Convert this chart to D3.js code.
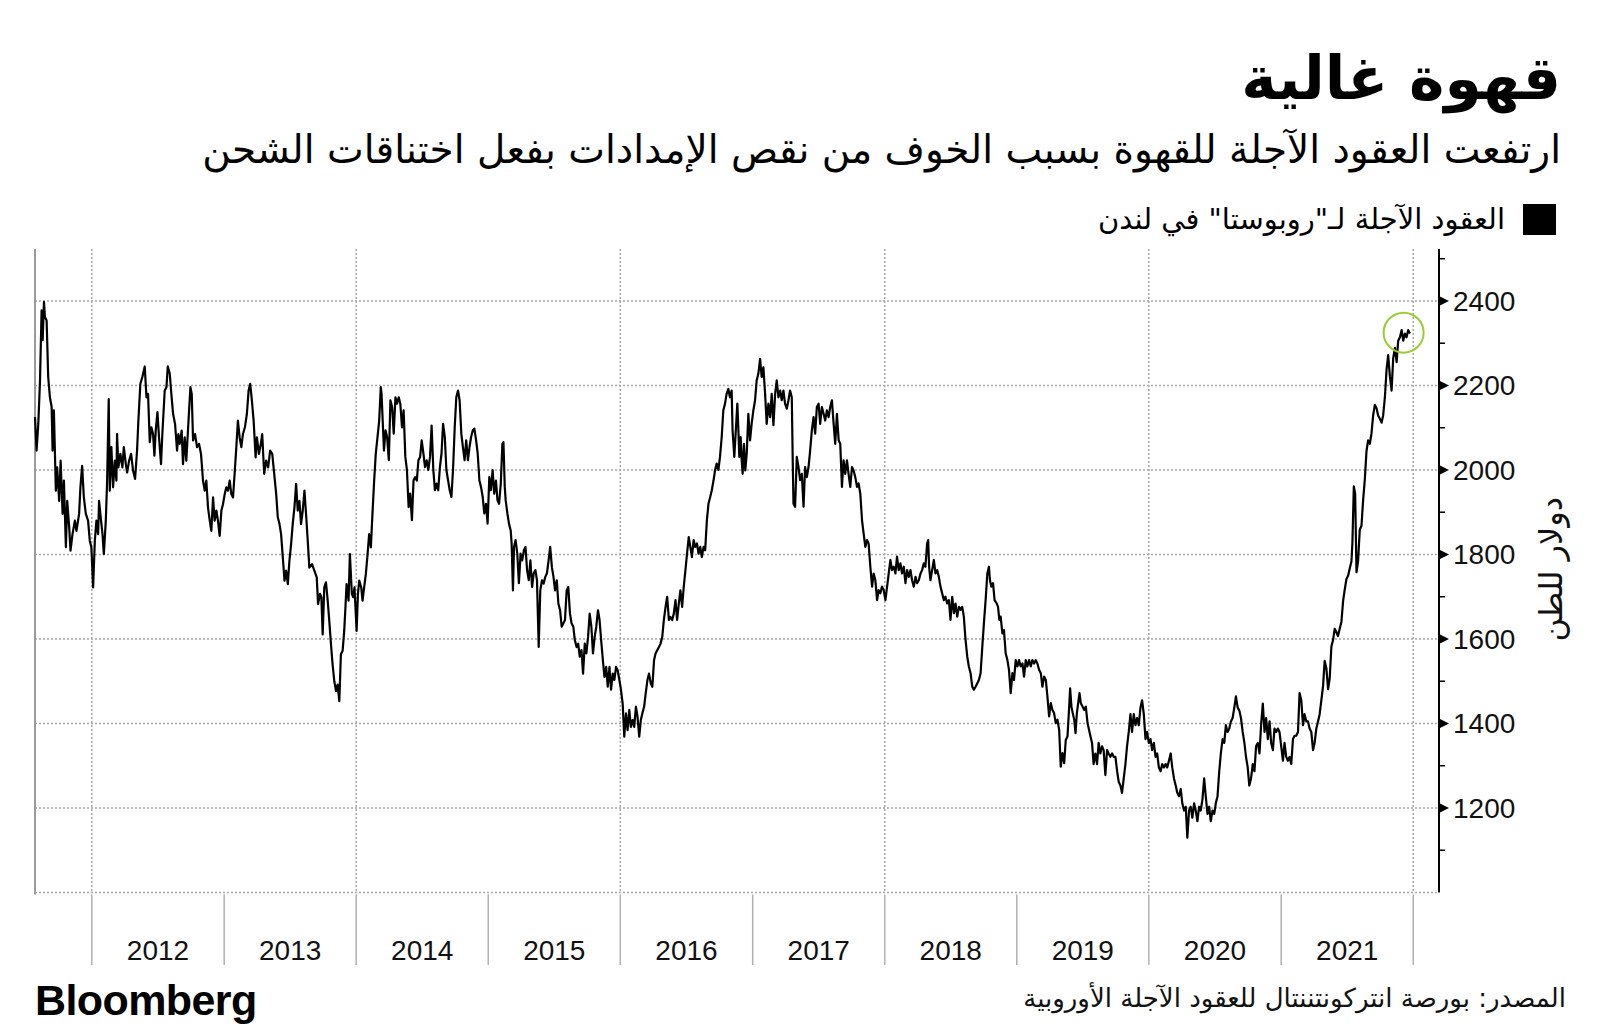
<!DOCTYPE html>
<html>
<head>
<meta charset="utf-8">
<script src="https://cdn.jsdelivr.net/npm/d3@7"></script>
<style>
  body { margin: 0; background: #fff; }
  svg { display: block; }
</style>
</head>
<body>
<div id="viz"></div>
<script>
// London robusta futures, USD/tonne (time as decimal year)
var priceSeries = [
  [2011.570,2125],[2011.582,2046],[2011.595,2109],[2011.608,2212],[2011.620,2378],[2011.628,2307],[2011.638,2398],[2011.645,2362],[2011.658,2354],[2011.670,2220],
  [2011.683,2172],[2011.696,2149],[2011.703,2046],[2011.713,2141],[2011.728,1951],[2011.738,2006],[2011.753,1927],[2011.764,2022],[2011.779,1896],[2011.789,1975],
  [2011.804,1817],[2011.814,1927],[2011.829,1864],[2011.839,1809],[2011.854,1848],[2011.872,1880],[2011.884,1856],[2011.904,1896],[2011.914,1959],[2011.927,2010],
  [2011.940,1935],[2011.955,1896],[2011.972,1880],[2011.985,1832],[2011.997,1817],[2012.010,1722],[2012.023,1832],[2012.035,1880],[2012.048,1848],[2012.055,1927],
  [2012.070,1880],[2012.081,1848],[2012.091,1801],[2012.106,1880],[2012.116,1975],[2012.128,2168],[2012.136,1951],[2012.148,2054],[2012.161,1959],[2012.174,2022],
  [2012.186,1975],[2012.191,2085],[2012.201,2006],[2012.216,2038],[2012.231,2006],[2012.242,2054],[2012.257,2014],[2012.267,1994],[2012.282,2022],[2012.297,2038],
  [2012.312,1998],[2012.327,1979],[2012.342,2046],[2012.352,2117],[2012.367,2204],[2012.382,2220],[2012.400,2245],[2012.413,2172],[2012.425,2180],[2012.438,2066],
  [2012.450,2101],[2012.463,2085],[2012.473,2034],[2012.483,2093],[2012.496,2137],[2012.508,2077],[2012.523,2014],[2012.533,2085],[2012.551,2188],[2012.564,2196],
  [2012.574,2245],[2012.589,2228],[2012.601,2180],[2012.614,2133],[2012.629,2109],[2012.644,2046],[2012.654,2085],[2012.664,2062],[2012.679,2093],[2012.689,2014],
  [2012.702,2077],[2012.714,2022],[2012.725,2085],[2012.735,2141],[2012.745,2196],[2012.755,2180],[2012.765,2070],[2012.780,2085],[2012.795,2054],[2012.810,2062],
  [2012.825,2038],[2012.840,1975],[2012.853,1951],[2012.865,1975],[2012.878,1911],[2012.891,1880],[2012.903,1856],[2012.916,1935],[2012.928,1880],[2012.941,1904],
  [2012.953,1880],[2012.966,1844],[2012.979,1904],[2012.991,1919],[2013.004,1943],[2013.016,1959],[2013.029,1951],[2013.042,1975],[2013.054,1943],[2013.067,1935],
  [2013.079,1991],[2013.092,2054],[2013.104,2117],[2013.117,2077],[2013.130,2054],[2013.142,2085],[2013.157,2101],[2013.172,2133],[2013.185,2188],[2013.197,2204],
  [2013.210,2164],[2013.223,2117],[2013.238,2030],[2013.248,2077],[2013.263,2038],[2013.278,2062],[2013.288,2085],[2013.303,1991],[2013.318,2022],[2013.333,2006],
  [2013.348,2046],[2013.364,2038],[2013.379,1991],[2013.394,1943],[2013.406,1888],[2013.419,1872],[2013.431,1848],[2013.444,1793],[2013.457,1738],[2013.469,1762],
  [2013.482,1730],[2013.494,1785],[2013.507,1825],[2013.519,1872],[2013.532,1911],[2013.545,1967],[2013.557,1904],[2013.570,1927],[2013.582,1872],[2013.595,1904],
  [2013.608,1951],[2013.620,1896],[2013.633,1832],[2013.645,1769],[2013.665,1777],[2013.683,1762],[2013.701,1746],[2013.711,1683],[2013.726,1707],[2013.736,1699],
  [2013.746,1611],[2013.758,1722],[2013.771,1734],[2013.784,1691],[2013.796,1643],[2013.809,1587],[2013.821,1540],[2013.834,1500],[2013.847,1477],[2013.859,1492],
  [2013.872,1453],[2013.884,1564],[2013.897,1572],[2013.909,1619],[2013.917,1666],[2013.927,1730],[2013.942,1691],[2013.952,1801],[2013.967,1707],[2013.977,1699],
  [2013.987,1722],[2014.003,1619],[2014.013,1707],[2014.023,1738],[2014.038,1722],[2014.048,1691],[2014.060,1722],[2014.073,1754],[2014.086,1801],[2014.098,1848],
  [2014.111,1817],[2014.123,1896],[2014.136,1975],[2014.148,2038],[2014.161,2077],[2014.174,2117],[2014.186,2196],[2014.192,2180],[2014.210,2046],[2014.222,2094],
  [2014.234,2078],[2014.247,2023],[2014.259,2165],[2014.272,2149],[2014.284,2086],[2014.297,2172],[2014.309,2157],[2014.322,2172],[2014.334,2157],[2014.347,2101],
  [2014.359,2141],[2014.372,2031],[2014.384,2000],[2014.397,1912],[2014.409,1944],[2014.422,1881],[2014.434,1975],[2014.446,1983],[2014.459,1975],[2014.471,2023],
  [2014.484,2031],[2014.496,2070],[2014.509,2039],[2014.521,2007],[2014.534,2023],[2014.546,2000],[2014.559,2031],[2014.571,2105],[2014.584,2000],[2014.596,1952],
  [2014.609,1968],[2014.621,1952],[2014.634,2007],[2014.646,2039],[2014.658,2109],[2014.671,2078],[2014.683,2000],[2014.696,1975],[2014.708,1952],[2014.721,1936],
  [2014.733,2000],[2014.746,2101],[2014.758,2172],[2014.771,2188],[2014.783,2165],[2014.796,2086],[2014.808,2054],[2014.821,2023],[2014.833,2070],[2014.846,2023],
  [2014.858,2054],[2014.870,2078],[2014.883,2094],[2014.895,2098],[2014.908,2070],[2014.920,2039],[2014.933,1975],[2014.945,1960],[2014.958,1936],[2014.970,1897],
  [2014.983,1920],[2014.995,1873],[2015.008,1983],[2015.020,1952],[2015.033,2000],[2015.045,1944],[2015.058,1975],[2015.070,1928],[2015.082,1920],[2015.095,1968],
  [2015.107,2062],[2015.115,2066],[2015.125,1960],[2015.132,1928],[2015.145,1897],[2015.157,1873],[2015.170,1857],[2015.177,1826],[2015.187,1715],[2015.195,1818],
  [2015.207,1834],[2015.220,1802],[2015.232,1732],[2015.245,1802],[2015.257,1786],[2015.270,1810],[2015.282,1818],[2015.294,1763],[2015.307,1739],[2015.319,1786],
  [2015.332,1723],[2015.344,1755],[2015.357,1763],[2015.369,1739],[2015.382,1581],[2015.394,1715],[2015.407,1739],[2015.419,1731],[2015.432,1747],[2015.444,1755],
  [2015.457,1786],[2015.469,1818],[2015.482,1770],[2015.494,1747],[2015.506,1715],[2015.519,1739],[2015.531,1684],[2015.544,1668],[2015.556,1629],[2015.569,1637],
  [2015.581,1645],[2015.594,1715],[2015.606,1723],[2015.619,1660],[2015.631,1637],[2015.644,1629],[2015.656,1597],[2015.669,1581],[2015.681,1589],[2015.693,1558],
  [2015.706,1574],[2015.718,1518],[2015.731,1589],[2015.743,1566],[2015.756,1605],[2015.768,1660],[2015.781,1629],[2015.793,1566],[2015.806,1605],[2015.818,1629],
  [2015.831,1668],[2015.843,1645],[2015.855,1597],[2015.868,1550],[2015.880,1510],[2015.893,1534],[2015.905,1487],[2015.918,1534],[2015.930,1480],[2015.943,1518],
  [2015.955,1503],[2015.968,1534],[2015.980,1526],[2015.993,1503],[2016.005,1480],[2016.018,1447],[2016.030,1369],[2016.043,1424],[2016.055,1384],[2016.068,1432],
  [2016.080,1392],[2016.093,1408],[2016.105,1392],[2016.118,1440],[2016.130,1416],[2016.143,1369],[2016.155,1408],[2016.167,1424],[2016.180,1440],[2016.192,1471],
  [2016.205,1503],[2016.217,1518],[2016.230,1495],[2016.242,1487],[2016.255,1550],[2016.267,1566],[2016.280,1574],[2016.292,1581],[2016.304,1589],[2016.317,1605],
  [2016.329,1645],[2016.342,1676],[2016.354,1700],[2016.367,1645],[2016.379,1652],[2016.392,1645],[2016.404,1660],[2016.417,1692],[2016.429,1645],[2016.442,1684],
  [2016.454,1715],[2016.467,1676],[2016.479,1723],[2016.492,1763],[2016.504,1802],[2016.517,1841],[2016.529,1818],[2016.541,1794],[2016.554,1834],[2016.566,1818],
  [2016.579,1826],[2016.591,1802],[2016.604,1818],[2016.616,1794],[2016.629,1818],[2016.641,1810],[2016.654,1881],[2016.666,1920],[2016.679,1936],[2016.691,1952],
  [2016.704,1975],[2016.716,2000],[2016.728,2015],[2016.741,2000],[2016.753,2031],[2016.766,2078],[2016.778,2141],[2016.791,2157],[2016.803,2180],[2016.816,2192],
  [2016.828,2172],[2016.841,2188],[2016.848,2094],[2016.861,2031],[2016.884,2157],[2016.891,2102],[2016.899,2031],[2016.909,2078],[2016.917,2023],[2016.924,1991],
  [2016.934,2062],[2016.944,1999],[2016.955,2039],[2016.967,2133],[2016.980,2070],[2016.992,2109],[2017.005,2141],[2017.018,2165],[2017.030,2212],[2017.043,2228],
  [2017.056,2263],[2017.068,2220],[2017.081,2243],[2017.094,2180],[2017.106,2109],[2017.119,2157],[2017.132,2125],[2017.144,2180],[2017.157,2106],[2017.170,2180],
  [2017.182,2212],[2017.195,2172],[2017.208,2188],[2017.220,2165],[2017.233,2188],[2017.245,2157],[2017.258,2145],[2017.271,2165],[2017.283,2188],[2017.296,2172],
  [2017.304,2007],[2017.309,1920],[2017.321,1913],[2017.334,2031],[2017.347,2007],[2017.359,1976],[2017.372,1991],[2017.385,1913],[2017.397,2007],[2017.410,1983],
  [2017.423,2007],[2017.435,2046],[2017.448,2094],[2017.461,2125],[2017.473,2086],[2017.486,2149],[2017.499,2157],[2017.511,2109],[2017.524,2149],[2017.537,2133],
  [2017.549,2117],[2017.562,2141],[2017.575,2125],[2017.587,2149],[2017.600,2165],[2017.613,2109],[2017.625,2062],[2017.638,2133],[2017.651,2070],[2017.663,2062],
  [2017.676,1960],[2017.688,2023],[2017.701,1991],[2017.714,2023],[2017.726,1991],[2017.739,1960],[2017.752,2007],[2017.764,1999],[2017.777,1983],[2017.790,1960],
  [2017.802,1968],[2017.815,1944],[2017.828,1881],[2017.840,1850],[2017.853,1818],[2017.866,1834],[2017.878,1826],[2017.891,1771],[2017.904,1724],[2017.916,1755],
  [2017.929,1739],[2017.942,1692],[2017.954,1716],[2017.967,1708],[2017.979,1724],[2017.992,1716],[2018.005,1692],[2018.018,1724],[2018.030,1755],[2018.043,1787],
  [2018.055,1763],[2018.068,1771],[2018.081,1755],[2018.093,1795],[2018.106,1763],[2018.119,1779],[2018.131,1755],[2018.144,1771],[2018.157,1732],[2018.169,1763],
  [2018.182,1747],[2018.195,1763],[2018.207,1739],[2018.220,1724],[2018.233,1747],[2018.245,1732],[2018.258,1739],[2018.271,1755],[2018.283,1763],[2018.296,1779],
  [2018.308,1771],[2018.321,1826],[2018.329,1834],[2018.336,1771],[2018.346,1739],[2018.359,1763],[2018.372,1787],[2018.384,1755],[2018.397,1763],[2018.410,1747],
  [2018.422,1724],[2018.435,1708],[2018.448,1692],[2018.460,1700],[2018.473,1684],[2018.486,1692],[2018.498,1645],[2018.511,1700],[2018.524,1661],[2018.536,1684],
  [2018.549,1653],[2018.562,1676],[2018.574,1669],[2018.587,1676],[2018.599,1653],[2018.612,1598],[2018.625,1558],[2018.637,1535],[2018.650,1519],[2018.663,1487],
  [2018.675,1480],[2018.688,1487],[2018.701,1495],[2018.713,1503],[2018.726,1519],[2018.739,1582],[2018.751,1637],[2018.764,1692],[2018.777,1755],[2018.789,1771],
  [2018.797,1739],[2018.807,1724],[2018.820,1732],[2018.832,1692],[2018.848,1684],[2018.858,1676],[2018.868,1645],[2018.878,1653],[2018.891,1613],[2018.903,1621],
  [2018.916,1566],[2018.929,1550],[2018.941,1527],[2018.954,1472],[2018.967,1519],[2018.979,1503],[2018.992,1550],[2019.005,1535],[2019.017,1550],[2019.030,1535],
  [2019.043,1542],[2019.055,1511],[2019.068,1550],[2019.080,1535],[2019.093,1550],[2019.106,1535],[2019.118,1550],[2019.131,1542],[2019.144,1550],[2019.156,1542],
  [2019.169,1527],[2019.182,1519],[2019.194,1487],[2019.207,1511],[2019.220,1503],[2019.232,1464],[2019.245,1417],[2019.258,1448],[2019.270,1432],[2019.283,1424],
  [2019.295,1401],[2019.308,1409],[2019.321,1385],[2019.333,1298],[2019.346,1330],[2019.359,1306],[2019.371,1361],[2019.384,1369],[2019.397,1440],[2019.404,1483],
  [2019.414,1440],[2019.424,1424],[2019.435,1409],[2019.445,1377],[2019.455,1424],[2019.465,1448],[2019.475,1472],[2019.485,1448],[2019.498,1440],[2019.511,1432],
  [2019.523,1440],[2019.536,1401],[2019.557,1371],[2019.570,1354],[2019.582,1304],[2019.595,1329],[2019.608,1304],[2019.620,1354],[2019.633,1329],[2019.646,1346],
  [2019.658,1337],[2019.671,1278],[2019.684,1337],[2019.696,1329],[2019.709,1321],[2019.722,1329],[2019.734,1321],[2019.747,1321],[2019.760,1287],[2019.772,1262],
  [2019.785,1253],[2019.797,1236],[2019.810,1270],[2019.823,1304],[2019.835,1346],[2019.848,1380],[2019.861,1422],[2019.873,1380],[2019.886,1422],[2019.899,1396],
  [2019.911,1413],[2019.924,1396],[2019.937,1438],[2019.949,1455],[2019.962,1422],[2019.975,1363],[2019.987,1380],[2020.000,1354],[2020.013,1363],[2020.025,1337],
  [2020.038,1354],[2020.051,1321],[2020.063,1329],[2020.076,1296],[2020.089,1287],[2020.101,1304],[2020.114,1296],[2020.127,1304],[2020.139,1296],[2020.152,1312],
  [2020.165,1329],[2020.177,1296],[2020.190,1270],[2020.203,1253],[2020.215,1236],[2020.228,1228],[2020.241,1245],[2020.253,1211],[2020.266,1194],[2020.279,1203],
  [2020.291,1130],[2020.304,1194],[2020.316,1203],[2020.329,1177],[2020.342,1211],[2020.354,1194],[2020.367,1169],[2020.380,1203],[2020.392,1194],[2020.405,1220],
  [2020.418,1270],[2020.430,1228],[2020.443,1186],[2020.456,1203],[2020.468,1169],[2020.481,1194],[2020.494,1186],[2020.506,1211],[2020.519,1228],[2020.532,1287],
  [2020.544,1329],[2020.557,1363],[2020.570,1354],[2020.582,1396],[2020.595,1380],[2020.608,1388],[2020.620,1405],[2020.633,1413],[2020.646,1438],[2020.658,1464],
  [2020.671,1438],[2020.684,1430],[2020.696,1413],[2020.709,1380],[2020.722,1354],[2020.734,1321],[2020.747,1296],[2020.759,1253],[2020.772,1270],[2020.785,1304],
  [2020.798,1287],[2020.810,1346],[2020.823,1354],[2020.836,1329],[2020.848,1396],[2020.861,1447],[2020.874,1380],[2020.886,1413],[2020.899,1363],[2020.912,1405],
  [2020.924,1354],[2020.937,1337],[2020.949,1388],[2020.962,1380],[2020.975,1388],[2020.987,1380],[2021.000,1346],[2021.013,1312],[2021.025,1354],[2021.038,1321],
  [2021.051,1312],[2021.063,1321],[2021.076,1304],[2021.089,1363],[2021.101,1371],[2021.114,1371],[2021.127,1380],[2021.139,1472],[2021.152,1455],[2021.165,1396],
  [2021.177,1422],[2021.190,1405],[2021.203,1405],[2021.215,1388],[2021.228,1380],[2021.241,1337],[2021.253,1354],[2021.266,1388],[2021.279,1405],[2021.291,1422],
  [2021.304,1455],[2021.317,1489],[2021.329,1548],[2021.342,1531],[2021.355,1481],[2021.367,1506],[2021.380,1582],[2021.393,1598],[2021.405,1624],[2021.418,1616],
  [2021.430,1607],[2021.443,1624],[2021.456,1641],[2021.469,1691],[2021.481,1717],[2021.494,1742],[2021.507,1750],[2021.519,1767],[2021.532,1784],[2021.539,1826],
  [2021.550,1961],[2021.560,1944],[2021.570,1758],[2021.582,1784],[2021.595,1859],[2021.608,1868],[2021.620,1927],[2021.633,1977],[2021.646,2045],[2021.658,2070],
  [2021.671,2062],[2021.684,2087],[2021.696,2129],[2021.709,2154],[2021.722,2146],[2021.734,2129],[2021.747,2121],[2021.760,2112],[2021.772,2129],[2021.785,2171],
  [2021.798,2238],[2021.810,2272],[2021.823,2222],[2021.836,2188],[2021.848,2264],[2021.861,2289],[2021.874,2255],[2021.886,2306],[2021.899,2314],[2021.912,2331],
  [2021.924,2306],[2021.937,2323],[2021.949,2314],[2021.962,2331],[2021.975,2323]
];

var yearLabels = [2012, 2013, 2014, 2015, 2016, 2017, 2018, 2019, 2020, 2021];
var yearBounds = [2012, 2013, 2014, 2015, 2016, 2017, 2018, 2019, 2020, 2021, 2022];
var gridYears = [2012, 2014, 2016, 2018, 2020, 2022];
var yTicks = [1200, 1400, 1600, 1800, 2000, 2200, 2400];
var yGrid = [1000, 1200, 1400, 1600, 1800, 2000, 2200, 2400];
var yMinor = [1100, 1300, 1500, 1700, 1900, 2100, 2300, 2500];
var highlight = [2021.927, 2325]; // green ring around the latest prices

var titleText = "قهوة غالية";
var subtitleText = "ارتفعت العقود الآجلة للقهوة بسبب الخوف من نقص الإمدادات بفعل اختناقات الشحن";
var legendText = "العقود الآجلة لـ\"روبوستا\" في لندن";
var unitText = "دولار للطن";
var sourceText = "المصدر: بورصة انتركونتننتال للعقود الآجلة الأوروبية";

var W = 1600, H = 1036;
var plotL = 35, plotR = 1439, plotT = 249, plotB = 892.5;
var arabicFont = "'DejaVu Sans', sans-serif";
var numFont = "'Liberation Sans', Arial, sans-serif";

// decimal year -> Date
function toDate(t) {
    var yr = Math.floor(t);
    var s = new Date(yr, 0, 1), e = new Date(yr + 1, 0, 1);
    return new Date(+s + (t - yr) * (e - s));
}

var svg = d3.select("#viz")
    .append("svg")
    .attr("width", W)
    .attr("height", H);

var x = d3.scaleTime()
    .domain([toDate(2011.570), toDate(2022.195)])
    .range([plotL, plotR]);

var y = d3.scaleLinear()
    .domain([1000, 2523])
    .range([plotB, plotT]);

// header
svg.append("text")
    .attr("x", 1561).attr("y", 99)
    .style("direction", "rtl")
    .attr("text-anchor", "start")
    .attr("font-family", arabicFont)
    .attr("font-weight", "bold")
    .attr("font-size", 60)
    .attr("fill", "#000")
    .text(titleText);

svg.append("text")
    .attr("x", 1561).attr("y", 163)
    .style("direction", "rtl")
    .attr("text-anchor", "start")
    .attr("font-family", arabicFont)
    .attr("font-size", 39)
    .attr("fill", "#000")
    .text(subtitleText);

// legend
svg.append("rect")
    .attr("x", 1523).attr("y", 204)
    .attr("width", 33).attr("height", 31)
    .attr("fill", "#000");
svg.append("text")
    .attr("x", 1505).attr("y", 229)
    .style("direction", "rtl")
    .attr("text-anchor", "start")
    .attr("font-family", arabicFont)
    .attr("font-size", 29)
    .attr("fill", "#000")
    .text(legendText);

// grid
var grid = svg.append("g")
    .attr("stroke", "#a6a6a6")
    .attr("stroke-width", 1.5)
    .attr("stroke-dasharray", "2,2");

grid.selectAll(".hg")
    .data(yGrid)
    .enter()
    .append("line")
    .attr("x1", plotL).attr("x2", plotR)
    .attr("y1", function (d) { return y(d); })
    .attr("y2", function (d) { return y(d); });

grid.selectAll(".vg")
    .data(gridYears)
    .enter()
    .append("line")
    .attr("x1", function (d) { return x(toDate(d)); })
    .attr("x2", function (d) { return x(toDate(d)); })
    .attr("y1", plotT).attr("y2", plotB);

// left frame line
svg.append("line")
    .attr("x1", plotL).attr("x2", plotL)
    .attr("y1", plotT).attr("y2", plotB + 2)
    .attr("stroke", "#9a9a9a")
    .attr("stroke-width", 2);

// year separators under the plot
svg.selectAll(".sep")
    .data(yearBounds)
    .enter()
    .append("line")
    .attr("x1", function (d) { return x(toDate(d)); })
    .attr("x2", function (d) { return x(toDate(d)); })
    .attr("y1", plotB + 2).attr("y2", 965)
    .attr("stroke", "#b0b0b0")
    .attr("stroke-width", 1.5);

svg.selectAll(".yr")
    .data(yearLabels)
    .enter()
    .append("text")
    .attr("x", function (d) { return (x(toDate(d)) + x(toDate(d + 1))) / 2; })
    .attr("y", 960)
    .attr("text-anchor", "middle")
    .attr("font-family", numFont)
    .attr("font-size", 28)
    .attr("fill", "#111")
    .text(function (d) { return d; });

// right axis
svg.append("line")
    .attr("x1", plotR).attr("x2", plotR)
    .attr("y1", plotT).attr("y2", plotB)
    .attr("stroke", "#000")
    .attr("stroke-width", 2);

svg.selectAll(".minor")
    .data(yMinor)
    .enter()
    .append("line")
    .attr("x1", plotR).attr("x2", plotR + 6)
    .attr("y1", function (d) { return y(d); })
    .attr("y2", function (d) { return y(d); })
    .attr("stroke", "#000")
    .attr("stroke-width", 1.5);

svg.selectAll(".tri")
    .data(yTicks)
    .enter()
    .append("path")
    .attr("d", function (d) {
        var yy = y(d);
        return "M" + plotR + "," + (yy - 5) + "L" + (plotR + 10) + "," + yy + "L" + plotR + "," + (yy + 5) + "Z";
    })
    .attr("fill", "#000");

svg.selectAll(".ylab")
    .data(yTicks)
    .enter()
    .append("text")
    .attr("x", plotR + 14)
    .attr("y", function (d) { return y(d) + 10; })
    .attr("font-family", numFont)
    .attr("font-size", 28)
    .attr("fill", "#111")
    .text(function (d) { return d; });

svg.append("text")
    .attr("transform", "translate(1562," + y(1765) + ") rotate(-90)")
    .attr("text-anchor", "middle")
    .attr("font-family", arabicFont)
    .attr("font-size", 32)
    .attr("fill", "#111")
    .text(unitText);

// price line
var line = d3.line()
    .x(function (d) { return x(toDate(d[0])); })
    .y(function (d) { return y(d[1]); });

svg.append("path")
    .datum(priceSeries)
    .attr("d", line)
    .attr("fill", "none")
    .attr("stroke", "#000")
    .attr("stroke-width", 2.2)
    .attr("stroke-linejoin", "round");

svg.append("circle")
    .attr("cx", x(toDate(highlight[0])))
    .attr("cy", y(highlight[1]))
    .attr("r", 20)
    .attr("fill", "none")
    .attr("stroke", "#9acd32")
    .attr("stroke-width", 2);

// footer
svg.append("text")
    .attr("x", 35).attr("y", 1015)
    .attr("font-family", "'Liberation Sans', Arial, sans-serif")
    .attr("font-weight", "bold")
    .attr("font-size", 43)
    .attr("letter-spacing", -0.6)
    .attr("fill", "#000")
    .text("Bloomberg");

svg.append("text")
    .attr("x", 1566).attr("y", 1007)
    .style("direction", "rtl")
    .attr("text-anchor", "start")
    .attr("font-family", arabicFont)
    .attr("font-size", 26)
    .attr("fill", "#111")
    .text(sourceText);
</script>
</body>
</html>
